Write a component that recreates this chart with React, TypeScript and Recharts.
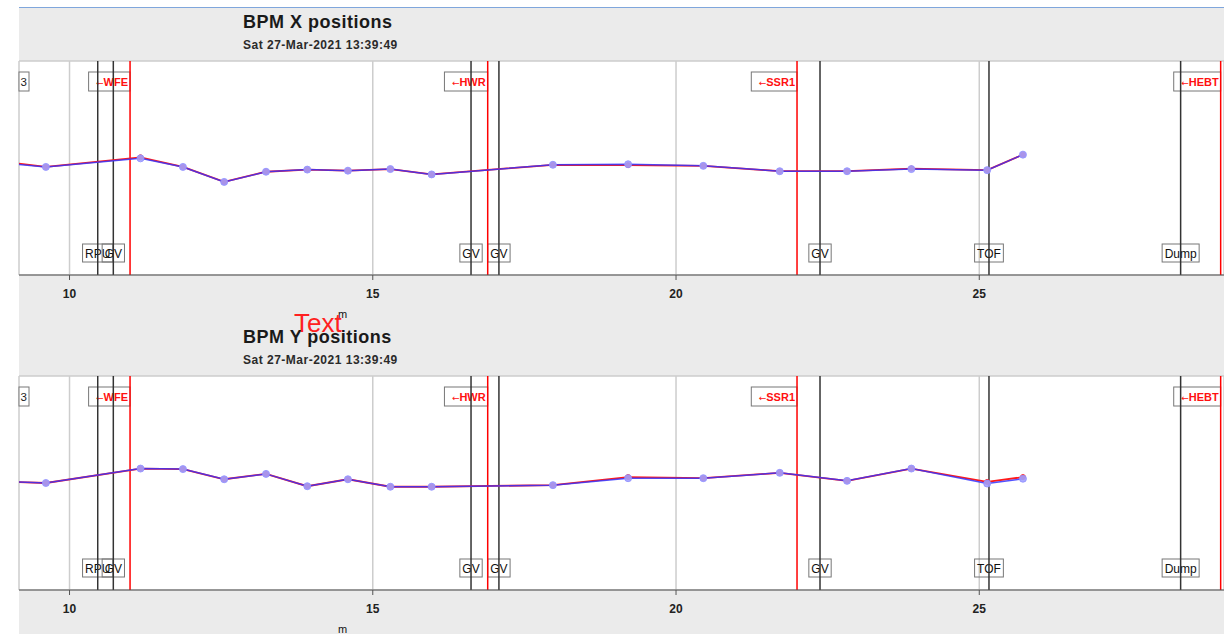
import { LineChart, Line, XAxis, YAxis, CartesianGrid, ReferenceLine } from 'recharts'

// BPM positions along the linac (m)
const bpmPos = [8.6, 9.61, 11.17, 11.87, 12.55, 13.24, 13.92, 14.59, 15.29, 15.97, 17.97, 19.21, 20.45, 21.71, 22.82, 23.88, 25.13, 25.72]

// horizontal orbit
const xRed = [0.16, 0.02, 0.2, 0.02, -0.26, -0.07, -0.03, -0.05, -0.02, -0.12, 0.06, 0.055, 0.04, -0.06, -0.06, -0.01, -0.04, 0.25]
const xBlue = [0.12, 0.02, 0.18, 0.02, -0.26, -0.07, -0.03, -0.05, -0.02, -0.12, 0.06, 0.07, 0.04, -0.06, -0.06, -0.02, -0.04, 0.25]

// vertical orbit
const yRed = [0.04, 0.0, 0.27, 0.26, 0.07, 0.17, -0.06, 0.07, -0.07, -0.07, -0.04, 0.11, 0.09, 0.19, 0.04, 0.27, 0.02, 0.11]
const yBlue = [0.04, 0.0, 0.27, 0.26, 0.07, 0.17, -0.06, 0.07, -0.07, -0.07, -0.04, 0.09, 0.09, 0.19, 0.04, 0.27, -0.01, 0.08]

// beamline devices (black) and section starts (red)
const devicePos = [10.465, 10.722, 16.62, 17.08, 22.374, 25.16, 28.32]
const deviceNames = ['RPU', 'GV', 'GV', 'GV', 'GV', 'TOF', 'Dump']
const sectionPos = [10.998, 16.895, 21.995, 28.98]
const sectionNames = ['WFE', 'HWR', 'SSR1', 'HEBT']
const edgeTagPos = 9.332

const xTicks = [10, 15, 20, 25]
const yTicks = [-2, -1, 0, 1, 2]
const xDomain = [9.167, 29.035]

const FONT = '"Liberation Sans", Arial, sans-serif'

let ctx: CanvasRenderingContext2D | null = null
function textWidth(text: string, font: string) {
  if (!ctx) ctx = document.createElement('canvas').getContext('2d')
  if (!ctx) return text.length * 7
  ctx.font = font
  return ctx.measureText(text).width
}

function TopTag(props: any) {
  const { viewBox, text, color } = props
  if (!viewBox) return null
  const w = textWidth('\u2190' + text, `bold 11px ${FONT}`) + 6
  const x = viewBox.x
  return (
    <g>
      <rect x={x - w} y={viewBox.y + 11} width={w} height={19} fill="#fff" stroke="#777" />
      <text x={x - 2} y={viewBox.y + 25} textAnchor="end" fill={color} fontSize={11} fontWeight="bold" fontFamily={FONT}>
        <tspan fontFamily="DejaVu Sans" fontWeight="normal" fontSize={9}>{'\u2190'}</tspan>
        {text}
      </text>
    </g>
  )
}

function EdgeTag(props: any) {
  const { viewBox } = props
  if (!viewBox) return null
  const x = viewBox.x
  return (
    <g>
      <rect x={x - 10} y={viewBox.y + 11} width={10} height={19} fill="#fff" stroke="#777" />
      <text x={x - 2} y={viewBox.y + 25} textAnchor="end" fill="#222" fontSize={11.5} fontFamily={FONT}>3</text>
    </g>
  )
}

function BottomTag(props: any) {
  const { viewBox, text } = props
  if (!viewBox) return null
  const w = textWidth(text, `12px ${FONT}`) + 5
  const x = viewBox.x
  return (
    <g>
      <rect x={x - w / 2} y={viewBox.y + 183} width={w} height={18} fill="none" stroke="#777" />
      <text x={x} y={viewBox.y + 196.5} textAnchor="middle" fill="#111" fontSize={12} fontFamily={FONT}>
        {text}
      </text>
    </g>
  )
}

function Panel({ title, red, blue, top }: { title: string, red: number[], blue: number[], top: number }) {
  const data = bpmPos.map((s, i) => ({ s, red: red[i], blue: blue[i] }))

  return (
    <div style={{ position: 'absolute', left: 0, top, width: 1224, height: 300 }}>
      <div style={{ position: 'absolute', left: 243, top: 13, fontSize: 18, lineHeight: '18px', letterSpacing: 0.5, fontWeight: 'bold', color: '#1a1a1a', whiteSpace: 'nowrap' }}>
        {title}
      </div>
      <div style={{ position: 'absolute', left: 243, top: 39, fontSize: 12, lineHeight: '12px', letterSpacing: 0.5, fontWeight: 'bold', color: '#2a2a2a', whiteSpace: 'nowrap' }}>
        Sat 27-Mar-2021 13:39:49
      </div>
      <div style={{ position: 'absolute', left: 0, top: 0 }}>
        <LineChart width={1224} height={300} data={data} margin={{ top: 61, right: 0, left: 19, bottom: 0 }}>
          <CartesianGrid stroke="#cdcdcd" strokeWidth={1.5} fill="#fff" />
          <XAxis
            dataKey="s"
            type="number"
            domain={xDomain}
            allowDataOverflow
            ticks={xTicks}
            height={25}
            tickSize={5}
            tickMargin={9}
            stroke="#555"
            tick={{ fill: '#222', fontSize: 12, fontWeight: 'bold', fontFamily: FONT }}
          />
          <XAxis
            xAxisId="top"
            orientation="top"
            dataKey="s"
            type="number"
            domain={xDomain}
            allowDataOverflow
            height={0}
            tick={false}
            tickLine={false}
            stroke="#555"
          />
          <YAxis domain={[-2, 2]} ticks={yTicks} width={0} tick={false} tickLine={false} stroke="#555" />

          {/* tags first so that the lines are drawn over them */}
          <ReferenceLine x={edgeTagPos} strokeOpacity={0} label={<EdgeTag />} />
          {sectionPos.map((p, i) => (
            <ReferenceLine key={'st' + i} x={p} strokeOpacity={0} label={<TopTag text={sectionNames[i]} color="#ff1010" />} />
          ))}
          {devicePos.map((p, i) => (
            <ReferenceLine key={'dt' + i} x={p} strokeOpacity={0} label={<BottomTag text={deviceNames[i]} />} />
          ))}
          {sectionPos.map((p, i) => (
            <ReferenceLine key={'sl' + i} x={p} stroke="#ff0000" strokeWidth={1.5} />
          ))}
          {devicePos.map((p, i) => (
            <ReferenceLine key={'dl' + i} x={p} stroke="#333" strokeWidth={1.5} />
          ))}

          <Line
            type="linear"
            dataKey="red"
            stroke="#ff1a1a"
            strokeWidth={1.8}
            dot={{ r: 2.5, fill: '#ff2020', stroke: '#ff2020', strokeWidth: 1 }}
            isAnimationActive={false}
          />
          <Line
            type="linear"
            dataKey="blue"
            stroke="#3434ff"
            strokeOpacity={0.85}
            strokeWidth={1.5}
            dot={{ r: 3.5, fill: '#a0a0ff', fillOpacity: 0.9, stroke: '#9090ff', strokeWidth: 1 }}
            isAnimationActive={false}
          />
        </LineChart>
      </div>
      <div style={{ position: 'absolute', left: 338, top: 309, fontSize: 11, lineHeight: '11px', color: '#111' }}>m</div>
    </div>
  )
}

export default function App() {
  return (
    <div style={{ position: 'absolute', left: 0, top: 0, width: 1224, height: 634, overflow: 'hidden', background: '#fff', fontFamily: FONT }}>
      <div style={{ position: 'absolute', left: 19, top: 7, width: 1205, height: 627, background: '#ebebeb', borderTop: '1px solid #7fa6dc' }} />
      <Panel title="BPM X positions" red={xRed} blue={xBlue} top={0} />
      <Panel title="BPM Y positions" red={yRed} blue={yBlue} top={315} />
      <div style={{ position: 'absolute', left: 294, top: 310, fontSize: 26, lineHeight: '26px', color: '#ff2020' }}>Text</div>
    </div>
  )
}
